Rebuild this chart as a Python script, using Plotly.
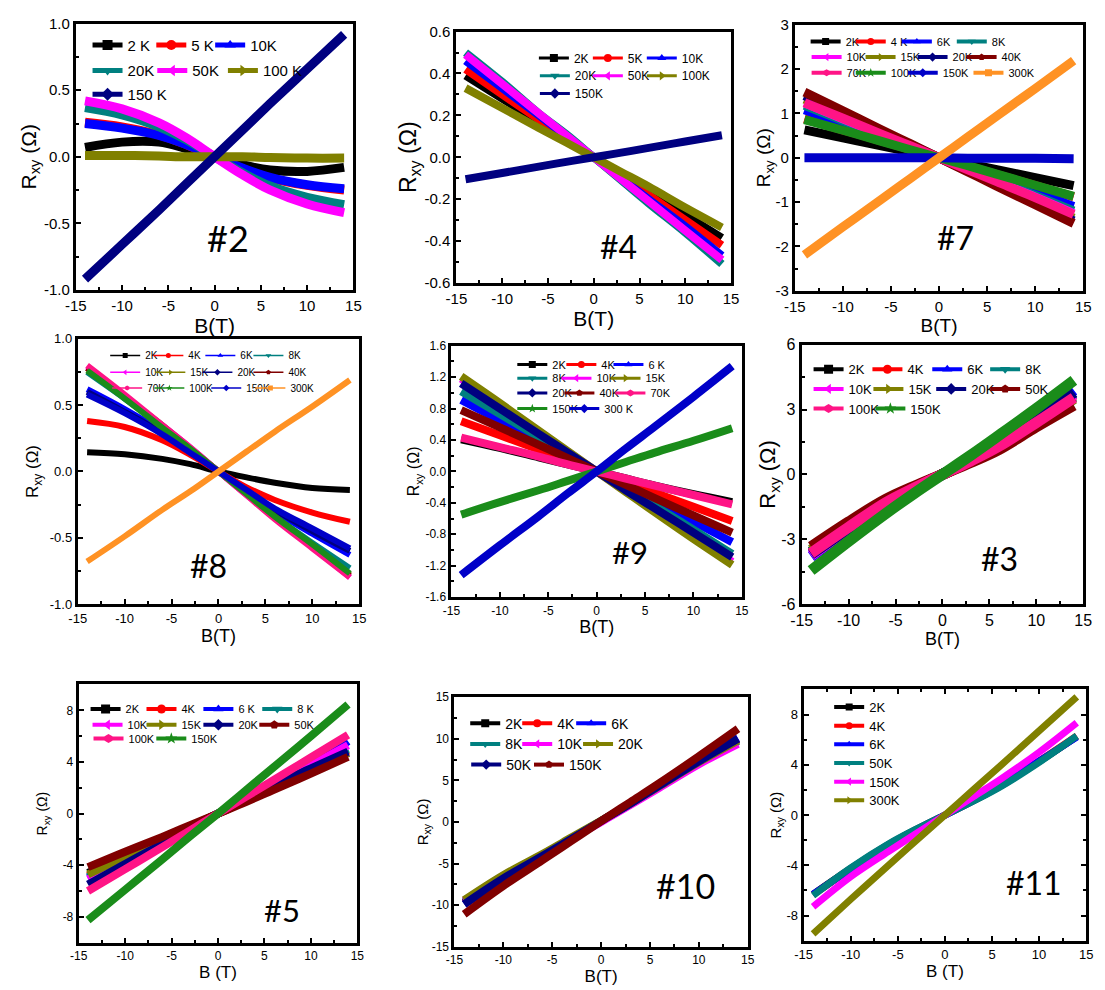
import plotly.graph_objects as go

W, H = 1105, 990
FONT = "Liberation Sans"

# Magnetic field values (T) at which every R_xy curve is sampled
B = [-14, -10, -6, -3, 0, 3, 6, 10, 14]

# Shared x-axis ticks
x_ticks = [-15, -10, -5, 0, 5, 10, 15]
x_ticktext = ["-15", "-10", "-5", "0", "5", "10", "15"]
x_minor = [-12.5, -7.5, -2.5, 2.5, 7.5, 12.5]

# ---------------- sample #2 ----------------
s2_labels = ["2 K", "5 K", "10K", "20K", "50K", "100 K", "150 K"]
s2_2K = [0.07, 0.11, 0.11, 0.06, 0.0, -0.06, -0.10, -0.11, -0.08]
s2_5K = [0.26, 0.225, 0.165, 0.09, 0.0, -0.09, -0.16, -0.215, -0.25]
s2_10K = [0.25, 0.215, 0.16, 0.09, 0.0, -0.085, -0.155, -0.21, -0.24]
s2_20K = [0.37, 0.315, 0.225, 0.125, 0.0, -0.12, -0.22, -0.305, -0.36]
s2_50K = [0.42, 0.36, 0.255, 0.14, 0.0, -0.135, -0.25, -0.355, -0.42]
s2_100K = [0.01, 0.01, 0.005, 0.0, 0.0, 0.0, -0.005, -0.01, -0.01]
s2_150K = [-0.92, -0.66, -0.40, -0.20, 0.0, 0.20, 0.40, 0.66, 0.92]
y2_ticks = [-1.0, -0.5, 0.0, 0.5, 1.0]
y2_ticktext = ["-1.0", "-0.5", "0.0", "0.5", "1.0"]
y2_minor = [-0.75, -0.25, 0.25, 0.75]

# ---------------- sample #4 ----------------
s4_labels = ["2K", "5K", "10K", "20K", "50K", "100K", "150K"]
s4_2K = [0.39, 0.28, 0.17, 0.085, 0.0, -0.085, -0.165, -0.275, -0.385]
s4_5K = [0.42, 0.30, 0.18, 0.09, 0.0, -0.09, -0.18, -0.30, -0.42]
s4_10K = [0.46, 0.33, 0.20, 0.10, 0.0, -0.10, -0.20, -0.33, -0.47]
s4_20K = [0.50, 0.36, 0.21, 0.11, 0.0, -0.11, -0.22, -0.36, -0.51]
s4_50K = [0.49, 0.35, 0.21, 0.105, 0.0, -0.105, -0.21, -0.35, -0.49]
s4_100K = [0.33, 0.235, 0.14, 0.07, 0.0, -0.07, -0.14, -0.24, -0.335]
s4_150K = [-0.105, -0.075, -0.045, -0.022, 0.0, 0.022, 0.045, 0.075, 0.105]
y4_ticks = [-0.6, -0.4, -0.2, 0.0, 0.2, 0.4, 0.6]
y4_ticktext = ["-0.6", "-0.4", "-0.2", "0.0", "0.2", "0.4", "0.6"]
y4_minor = [-0.5, -0.3, -0.1, 0.1, 0.3, 0.5]

# ---------------- sample #7 ----------------
s7_labels = ["2K", "4 K", "6K", "8K", "10K", "15K", "20K", "40K", "70K", "100K", "150K", "300K"]
s7_2K = [0.63, 0.45, 0.27, 0.135, 0.0, -0.135, -0.27, -0.45, -0.63]
s7_4K = [0.88, 0.63, 0.38, 0.19, 0.0, -0.19, -0.38, -0.63, -0.88]
s7_6K = [1.08, 0.77, 0.46, 0.23, 0.0, -0.23, -0.47, -0.78, -1.10]
s7_8K = [1.18, 0.84, 0.51, 0.25, 0.0, -0.25, -0.51, -0.85, -1.20]
s7_10K = [1.24, 0.88, 0.53, 0.27, 0.0, -0.27, -0.54, -0.89, -1.26]
s7_15K = [1.32, 0.94, 0.57, 0.28, 0.0, -0.29, -0.57, -0.96, -1.36]
s7_20K = [1.40, 1.00, 0.60, 0.30, 0.0, -0.30, -0.61, -1.01, -1.42]
s7_40K = [1.48, 1.06, 0.63, 0.32, 0.0, -0.32, -0.64, -1.06, -1.48]
s7_70K = [1.24, 0.89, 0.53, 0.27, 0.0, -0.27, -0.54, -0.90, -1.28]
s7_100K = [0.86, 0.62, 0.37, 0.18, 0.0, -0.18, -0.37, -0.62, -0.87]
s7_150K = [0.0, 0.0, 0.0, 0.0, 0.0, -0.01, -0.01, -0.01, -0.02]
s7_300K = [-2.19, -1.56, -0.94, -0.47, 0.0, 0.47, 0.94, 1.56, 2.19]
y7_ticks = [-3, -2, -1, 0, 1, 2, 3]
y7_ticktext = ["-3", "-2", "-1", "0", "1", "2", "3"]
y7_minor = [-2.5, -1.5, -0.5, 0.5, 1.5, 2.5]

# ---------------- sample #8 ----------------
s8_labels = ["2K", "4K", "6K", "8K", "10K", "15K", "20K", "40K", "70K", "100K", "150K", "300K"]
s8_2K = [0.145, 0.13, 0.095, 0.055, 0.0, -0.045, -0.085, -0.125, -0.14]
s8_4K = [0.38, 0.335, 0.235, 0.125, 0.0, -0.12, -0.215, -0.31, -0.38]
s8_6K = [0.62, 0.47, 0.30, 0.15, 0.0, -0.15, -0.30, -0.47, -0.63]
s8_8K = [0.75, 0.55, 0.34, 0.17, 0.0, -0.17, -0.34, -0.54, -0.73]
s8_10K = [0.79, 0.57, 0.35, 0.18, 0.0, -0.18, -0.35, -0.57, -0.80]
s8_15K = [0.78, 0.56, 0.35, 0.17, 0.0, -0.17, -0.35, -0.56, -0.78]
s8_20K = [0.60, 0.45, 0.29, 0.15, 0.0, -0.15, -0.29, -0.45, -0.60]
s8_40K = [0.78, 0.56, 0.34, 0.17, 0.0, -0.17, -0.34, -0.56, -0.79]
s8_70K = [0.80, 0.58, 0.35, 0.18, 0.0, -0.18, -0.36, -0.58, -0.80]
s8_100K = [0.76, 0.55, 0.33, 0.17, 0.0, -0.17, -0.34, -0.55, -0.77]
s8_150K = [0.58, 0.44, 0.28, 0.14, 0.0, -0.14, -0.28, -0.43, -0.58]
s8_300K = [-0.68, -0.49, -0.29, -0.15, 0.0, 0.15, 0.30, 0.49, 0.69]

# ---------------- sample #9 ----------------
s9_labels = ["2K", "4K", "6 K", "8K", "10K", "15K", "20K", "40K", "70K", "150K", "300 K"]
s9_2K = [0.41, 0.30, 0.18, 0.09, 0.0, -0.09, -0.18, -0.29, -0.39]
s9_4K = [0.64, 0.46, 0.28, 0.14, 0.0, -0.14, -0.27, -0.45, -0.63]
s9_6K = [0.91, 0.65, 0.39, 0.20, 0.0, -0.19, -0.39, -0.64, -0.90]
s9_8K = [1.02, 0.73, 0.44, 0.22, 0.0, -0.22, -0.44, -0.74, -1.05]
s9_10K = [1.18, 0.85, 0.51, 0.25, 0.0, -0.25, -0.50, -0.83, -1.15]
s9_15K = [1.21, 0.87, 0.52, 0.26, 0.0, -0.26, -0.52, -0.86, -1.19]
s9_20K = [1.12, 0.80, 0.48, 0.24, 0.0, -0.24, -0.47, -0.78, -1.09]
s9_40K = [0.78, 0.56, 0.34, 0.17, 0.0, -0.17, -0.34, -0.56, -0.78]
s9_70K = [0.43, 0.31, 0.19, 0.09, 0.0, -0.09, -0.18, -0.30, -0.42]
s9_150K = [-0.55, -0.39, -0.24, -0.12, 0.0, 0.12, 0.24, 0.39, 0.55]
s9_300K = [-1.32, -0.94, -0.57, -0.28, 0.0, 0.29, 0.57, 0.95, 1.34]
y9_ticks = [-1.6, -1.2, -0.8, -0.4, 0.0, 0.4, 0.8, 1.2, 1.6]
y9_ticktext = ["-1.6", "-1.2", "-0.8", "-0.4", "0.0", "0.4", "0.8", "1.2", "1.6"]
y9_minor = [-1.4, -1.0, -0.6, -0.2, 0.2, 0.6, 1.0, 1.4]

# ---------------- sample #3 ----------------
s3_labels = ["2K", "4K", "6K", "8K", "10K", "15K", "20K", "50K", "100K", "150K"]
s3_2K = [-3.6, -2.42, -1.28, -0.62, 0.0, 0.62, 1.3, 2.42, 3.6]
s3_4K = [-3.65, -2.45, -1.3, -0.63, 0.0, 0.63, 1.32, 2.45, 3.7]
s3_6K = [-3.8, -2.55, -1.35, -0.66, 0.0, 0.66, 1.38, 2.6, 3.9]
s3_8K = [-3.6, -2.42, -1.28, -0.62, 0.0, 0.62, 1.3, 2.45, 3.75]
s3_10K = [-3.75, -2.5, -1.32, -0.64, 0.0, 0.64, 1.33, 2.5, 3.7]
s3_15K = [-3.5, -2.35, -1.25, -0.6, 0.0, 0.6, 1.27, 2.35, 3.5]
s3_20K = [-3.7, -2.5, -1.32, -0.64, 0.0, 0.64, 1.35, 2.5, 3.8]
s3_50K = [-3.35, -2.2, -1.15, -0.55, 0.0, 0.55, 1.15, 2.2, 3.2]
s3_100K = [-3.65, -2.45, -1.3, -0.63, 0.0, 0.62, 1.3, 2.4, 3.55]
s3_150K = [-4.45, -3.1, -1.8, -0.88, 0.0, 0.88, 1.8, 3.05, 4.35]
y3_ticks = [-6, -3, 0, 3, 6]
y3_ticktext = ["-6", "-3", "0", "3", "6"]
y3_minor = [-4.5, -1.5, 1.5, 4.5]

# ---------------- sample #5 ----------------
s5_labels = ["2K", "4K", "6 K", "8 K", "10K", "15K", "20K", "50K", "100K", "150K"]
s5_2K = [-4.6, -3.3, -2.0, -1.0, 0.0, 1.0, 2.0, 3.3, 4.7]
s5_4K = [-4.8, -3.4, -2.05, -1.03, 0.0, 1.03, 2.1, 3.45, 4.9]
s5_6K = [-5.0, -3.55, -2.15, -1.07, 0.0, 1.07, 2.2, 3.65, 5.6]
s5_8K = [-4.9, -3.5, -2.1, -1.05, 0.0, 1.05, 2.15, 3.55, 5.0]
s5_10K = [-5.1, -3.65, -2.2, -1.1, 0.0, 1.1, 2.25, 3.75, 5.3]
s5_15K = [-4.7, -3.35, -2.0, -1.0, 0.0, 1.0, 2.05, 3.35, 4.7]
s5_20K = [-5.5, -3.9, -2.35, -1.17, 0.0, 1.1, 2.2, 3.5, 4.8]
s5_50K = [-4.15, -2.95, -1.8, -0.9, 0.0, 0.9, 1.85, 3.1, 4.4]
s5_100K = [-6.0, -4.3, -2.6, -1.3, 0.0, 1.3, 2.6, 4.35, 6.1]
s5_150K = [-8.25, -5.9, -3.55, -1.75, 0.0, 1.8, 3.6, 6.0, 8.45]
y5_ticks = [-8, -4, 0, 4, 8]
y5_ticktext = ["-8", "-4", "0", "4", "8"]
y5_minor = [-6, -2, 2, 6]

# ---------------- sample #10 ----------------
s10_labels = ["2K", "4K", "6K", "8K", "10K", "20K", "50K", "150K"]
s10_2K = [-9.7, -6.65, -4.0, -1.95, 0.1, 2.15, 4.3, 7.15, 9.9]
s10_4K = [-9.8, -6.7, -4.05, -2.0, 0.1, 2.2, 4.35, 7.25, 10.0]
s10_6K = [-9.9, -6.8, -4.1, -2.0, 0.1, 2.2, 4.4, 7.3, 10.1]
s10_8K = [-9.6, -6.6, -4.0, -1.95, 0.1, 2.15, 4.3, 7.1, 9.7]
s10_10K = [-9.5, -6.5, -3.95, -1.95, 0.0, 2.05, 4.15, 6.95, 9.4]
s10_20K = [-9.4, -6.4, -3.85, -1.85, 0.15, 2.2, 4.35, 7.2, 9.8]
s10_50K = [-9.9, -6.8, -4.1, -2.0, 0.1, 2.2, 4.4, 7.3, 10.0]
s10_150K = [-11.1, -7.7, -4.6, -2.25, 0.1, 2.4, 4.7, 7.9, 11.2]
y10_ticks = [-15, -10, -5, 0, 5, 10, 15]
y10_ticktext = ["-15", "-10", "-5", "0", "5", "10", "15"]
y10_minor = [-12.5, -7.5, -2.5, 2.5, 7.5, 12.5]

# ---------------- sample #11 ----------------
s11_labels = ["2K", "4K", "6K", "50K", "150K", "300K"]
s11_2K = [-6.3, -4.25, -2.35, -1.12, 0.0, 1.12, 2.35, 4.25, 6.25]
s11_4K = [-6.35, -4.3, -2.4, -1.15, 0.0, 1.15, 2.4, 4.3, 6.3]
s11_6K = [-6.3, -4.3, -2.4, -1.15, 0.0, 1.15, 2.45, 4.3, 6.2]
s11_50K = [-6.4, -4.2, -2.3, -1.1, 0.0, 1.1, 2.3, 4.2, 6.3]
s11_150K = [-7.3, -4.9, -2.9, -1.45, 0.0, 1.45, 2.9, 5.0, 7.35]
s11_300K = [-9.45, -6.7, -4.0, -2.0, 0.0, 2.0, 4.0, 6.7, 9.4]
y11_ticks = [-8, -4, 0, 4, 8]
y11_ticktext = ["-8", "-4", "0", "4", "8"]
y11_minor = [-6, -2, 2, 6]

# ---------------- styling ----------------
BLACK, RED, BLUE, TEAL = "#000000", "#FF0000", "#0000FF", "#008080"
MAGENTA, OLIVE, NAVY, WINE = "#FF00FF", "#808000", "#000080", "#800000"
PINK, GREEN, ROYAL, ORANGE = "#FF1486", "#1A8C1A", "#0000C8", "#FF9224"
PALETTE = [BLACK, RED, BLUE, TEAL, MAGENTA, OLIVE, NAVY, WINE, PINK, GREEN, ROYAL, ORANGE]
SYMBOLS = ["square", "circle", "triangle-up", "triangle-down", "triangle-left",
           "triangle-right", "diamond", "pentagon", "hexagon", "star", "diamond", "square"]
P7_COLORS = [BLACK, RED, BLUE, TEAL, MAGENTA, OLIVE, NAVY]

# Legend entries are placed one by one: row centres (px from top) and the
# left edge of each entry's text (px from left).
panels = [
    dict(tag="#2", labels=s2_labels, colors=P7_COLORS,
         series=[s2_2K, s2_5K, s2_10K, s2_20K, s2_50K, s2_100K, s2_150K],
         box=(65, 348, 15, 286), yr=(-1, 1), yt=(y2_ticks, y2_ticktext, y2_minor),
         tfs=15, ytfs=21, xtfs=21, xtitle="B(T)", ystand=2, lw=9, tagpos=(220, 233, 36),
         leg=dict(rows=[37, 63, 87], tx=[[117, 182, 242], [117, 183, 255], [117]],
                  fs=15, klw=5, kms=10)),
    dict(tag="#4", labels=s4_labels, colors=P7_COLORS,
         series=[s4_2K, s4_5K, s4_10K, s4_20K, s4_50K, s4_100K, s4_150K],
         box=(453, 733, 23, 279), yr=(-0.6, 0.6), yt=(y4_ticks, y4_ticktext, y4_minor),
         tfs=15, ytfs=23, xtfs=21, xtitle="B(T)", ystand=2, lw=8, tagpos=(618, 242, 32),
         leg=dict(rows=[50, 68, 86], tx=[[572, 627, 682], [573, 627, 682], [573]],
                  fs=12, klw=3, kms=8)),
    dict(tag="#7", labels=s7_labels, colors=PALETTE,
         series=[s7_2K, s7_4K, s7_6K, s7_8K, s7_10K, s7_15K, s7_20K, s7_40K, s7_70K,
                 s7_100K, s7_150K, s7_300K],
         box=(798, 1092, 16, 287), yr=(-3, 3), yt=(y7_ticks, y7_ticktext, y7_minor),
         tfs=15, ytfs=19, xtfs=19, xtitle="B(T)", ystand=0, lw=9, tagpos=(962, 233, 32),
         leg=dict(rows=[33, 49, 65],
                  tx=[[849, 895, 942, 998], [850, 905, 958, 1008], [850, 895, 948, 1015]],
                  fs=11, klw=4, kms=7)),
    dict(tag="#8", labels=s8_labels, colors=PALETTE,
         series=[s8_2K, s8_4K, s8_6K, s8_8K, s8_10K, s8_15K, s8_20K, s8_40K, s8_70K,
                 s8_100K, s8_150K, s8_300K],
         box=(67, 354, 336, 606), yr=(-1, 1), yt=(y2_ticks, y2_ticktext, y2_minor),
         tfs=13, ytfs=17, xtfs=18, xtitle="B(T)", ystand=7, lw=6, tagpos=(200, 567, 32),
         leg=dict(rows=[353, 370, 386],
                  tx=[[135, 179, 232, 281], [135, 181, 229, 281], [137, 180, 238, 283]],
                  fs=10, klw=1.5, kms=5)),
    dict(tag="#9", labels=s9_labels, colors=PALETTE[:11],
         series=[s9_2K, s9_4K, s9_6K, s9_8K, s9_10K, s9_15K, s9_20K, s9_40K, s9_70K,
                 s9_150K, s9_300K],
         box=(448, 744, 343, 599), yr=(-1.6, 1.6), yt=(y9_ticks, y9_ticktext, y9_minor),
         tfs=12, ytfs=16, xtfs=18, xtitle="B(T)", ystand=2, lw=8, tagpos=(630, 553, 31),
         leg=dict(rows=[362, 376, 391, 407],
                  tx=[[550, 600, 648], [550, 595, 645], [550, 598, 650], [550, 603]],
                  fs=11, klw=3, kms=7)),
    dict(tag="#3", labels=s3_labels, colors=PALETTE[:10],
         series=[s3_2K, s3_4K, s3_6K, s3_8K, s3_10K, s3_15K, s3_20K, s3_50K, s3_100K, s3_150K],
         box=(805, 1092, 342, 606), yr=(-6, 6), yt=(y3_ticks, y3_ticktext, y3_minor),
         tfs=16, ytfs=22, xtfs=18, xtitle="B(T)", ystand=0, lw=11, tagpos=(1007, 560, 32),
         leg=dict(rows=[367, 387, 407],
                  tx=[[852, 912, 973, 1032], [852, 913, 977, 1032], [852, 915]],
                  fs=13, klw=4, kms=9)),
    dict(tag="#5", labels=s5_labels, colors=PALETTE[:10],
         series=[s5_2K, s5_4K, s5_6K, s5_8K, s5_10K, s5_15K, s5_20K, s5_50K, s5_100K, s5_150K],
         box=(68, 352, 688, 951), yr=(-10, 10), yt=(y5_ticks, y5_ticktext, y5_minor),
         tfs=12, ytfs=14, xtfs=17, xtitle="B (T)", ystand=12, lw=8, tagpos=(275, 918, 31),
         leg=dict(rows=[713, 729, 743],
                  tx=[[115, 172, 230, 290], [117, 172, 230, 287], [118, 182]],
                  fs=11, klw=4, kms=9)),
    dict(tag="#10", labels=s10_labels, colors=PALETTE[:8],
         series=[s10_2K, s10_4K, s10_6K, s10_8K, s10_10K, s10_20K, s10_50K, s10_150K],
         box=(451, 750, 701, 955), yr=(-15, 15), yt=(y10_ticks, y10_ticktext, y10_minor),
         tfs=12, ytfs=15, xtfs=17, xtitle="B(T)", ystand=0, lw=8, tagpos=(687, 893, 34),
         leg=dict(rows=[728, 749, 770],
                  tx=[[502, 555, 610], [502, 555, 617], [503, 567]],
                  fs=14, klw=4, kms=8)),
    dict(tag="#11", labels=s11_labels, colors=PALETTE[:6],
         series=[s11_2K, s11_4K, s11_6K, s11_50K, s11_150K, s11_300K],
         box=(807, 1095, 693, 949), yr=(-10, 10), yt=(y11_ticks, y11_ticktext, y11_minor),
         tfs=13, ytfs=15, xtfs=17, xtitle="B (T)", ystand=2, lw=7, tagpos=(1042, 890, 32),
         leg=dict(rows=[711, 730, 749, 768, 787, 806],
                  tx=[[873], [873], [873], [873], [873], [873]],
                  fs=13, klw=4, kms=7)),
]

fig = go.Figure()
layout = dict(
    width=W, height=H, margin=dict(l=0, r=0, t=0, b=0),
    paper_bgcolor="white", plot_bgcolor="white", showlegend=True,
    font=dict(family=FONT, color="black"),
    annotations=[],
)

legend_count = 0


def legend_id(n):
    return "legend" if n == 1 else f"legend{n}"


for i, p in enumerate(panels, start=1):
    sfx = "" if i == 1 else str(i)
    xa, ya = f"x{sfx}", f"y{sfx}"
    x0, x1, y0, y1 = p["box"]
    ticks, ticktext, minor = p["yt"]
    axis_common = dict(
        showline=True, linewidth=3, linecolor="black", mirror=True,
        ticks="inside", ticklen=5, tickwidth=2, tickcolor="black",
        showgrid=False, zeroline=False, tickmode="array",
        tickfont=dict(family=FONT, size=p["tfs"], color="black"),
    )
    layout[f"xaxis{sfx}"] = dict(
        axis_common, domain=[x0 / W, x1 / W], anchor=ya, range=[-15, 15],
        tickvals=x_ticks, ticktext=x_ticktext,
        minor=dict(tickmode="array", tickvals=x_minor, ticks="inside", ticklen=3,
                   tickwidth=2, tickcolor="black", showgrid=False),
        title=dict(text=p["xtitle"], standoff=0,
                   font=dict(family=FONT, size=p["xtfs"], color="black")),
    )
    layout[f"yaxis{sfx}"] = dict(
        axis_common, domain=[1 - y1 / H, 1 - y0 / H], anchor=xa, range=list(p["yr"]),
        tickvals=ticks, ticktext=ticktext,
        minor=dict(tickmode="array", tickvals=minor, ticks="inside", ticklen=3,
                   tickwidth=2, tickcolor="black", showgrid=False),
        title=dict(text="R<sub>xy</sub> (Ω)", standoff=p["ystand"],
                   font=dict(family=FONT, size=p["ytfs"], color="black")),
    )
    if p["tag"] == "#11":
        layout[f"xaxis{sfx}"]["mirror"] = "ticks"
        layout[f"yaxis{sfx}"]["mirror"] = "ticks"

    # measured curves
    for k, vals in enumerate(p["series"]):
        fig.add_trace(go.Scatter(
            x=B, y=vals, mode="lines", xaxis=xa, yaxis=ya, showlegend=False,
            line=dict(color=p["colors"][k], width=p["lw"], shape="spline", smoothing=1.0),
            hoverinfo="skip", name=p["labels"][k],
        ))

    # legend keys: each entry gets its own small legend box
    lg = p["leg"]
    k = 0
    for ry, xs in zip(lg["rows"], lg["tx"]):
        for tx in xs:
            legend_count += 1
            lid = legend_id(legend_count)
            layout[lid] = dict(
                x=(tx - 40) / W, y=1 - ry / H, xref="paper", yref="paper",
                xanchor="left", yanchor="middle", orientation="v",
                bgcolor="rgba(0,0,0,0)", borderwidth=0, itemwidth=30,
                font=dict(family=FONT, size=lg["fs"], color="black"),
            )
            fig.add_trace(go.Scatter(
                x=[None], y=[None], mode="lines+markers", xaxis=xa, yaxis=ya,
                name=p["labels"][k], legend=lid, showlegend=True, hoverinfo="skip",
                line=dict(color=p["colors"][k], width=lg["klw"]),
                marker=dict(symbol=SYMBOLS[k], size=lg["kms"], color=p["colors"][k]),
            ))
            k += 1

    tx, ty, tfs = p["tagpos"]
    layout["annotations"].append(dict(
        text=p["tag"], x=tx / W, y=1 - ty / H, xref="paper", yref="paper",
        xanchor="center", yanchor="middle", showarrow=False,
        font=dict(family="Lato", size=tfs, color="black"),
    ))

fig.update_layout(**layout)
fig.write_html("out.html")
